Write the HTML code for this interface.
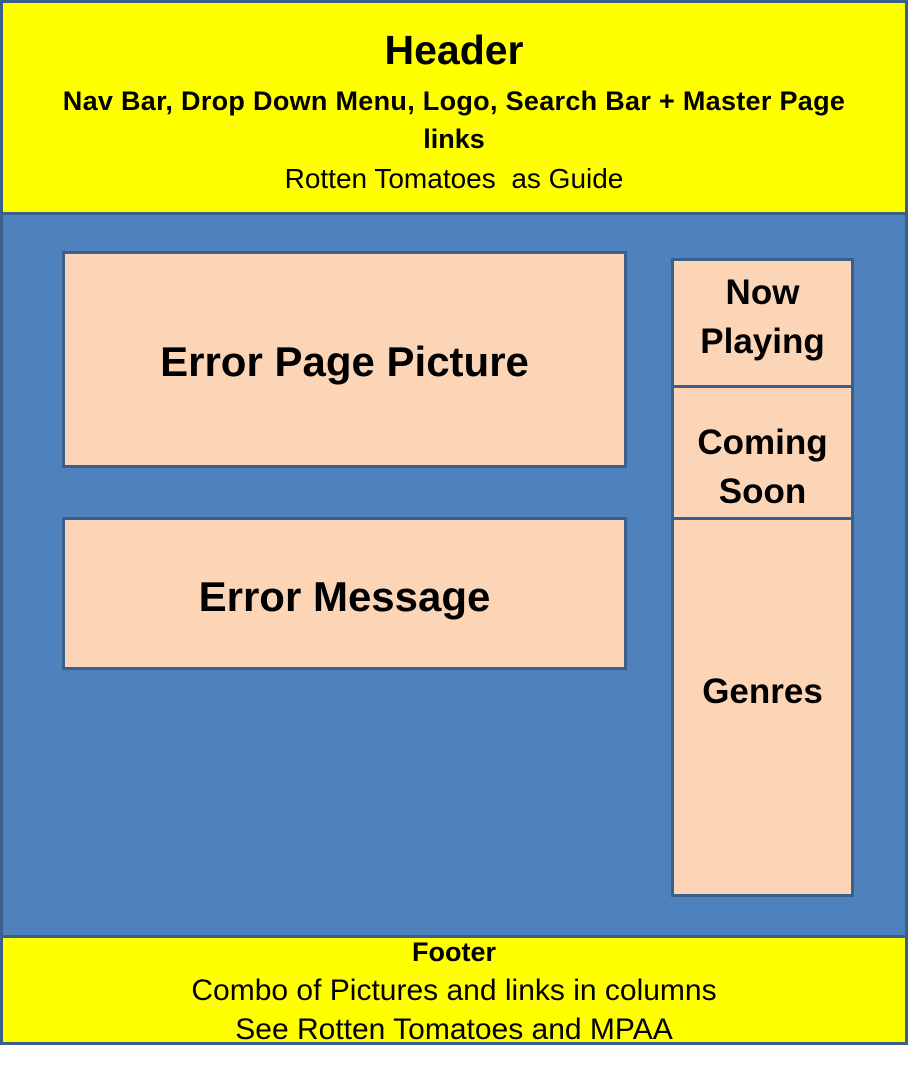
<!DOCTYPE html>
<html><head><style>
body{margin:0;width:908px;height:1070px;background:#fff;position:relative;overflow:hidden;font-family:"Liberation Sans",sans-serif;}
.a{position:absolute;box-sizing:border-box;}
.t{position:absolute;left:0;right:0;text-align:center;color:#000;white-space:nowrap;height:40px;line-height:40px;}
.box{background:#fbd5b5;border:3px solid #3a5f8a;}
.bt{position:absolute;text-align:center;font-weight:bold;color:#000;white-space:nowrap;height:50px;line-height:50px;}
</style></head><body>
<div class="a" style="left:0;top:0;width:908px;height:1045px;background:#4f81bd;border:3px solid #3a5f8a;"></div>
<div class="a" style="left:0;top:0;width:908px;height:215px;background:#ffff00;border:3px solid #3a5f8a;"></div>
<div class="t" style="top:30px;font-size:41px;font-weight:bold;">Header</div>
<div class="t" style="top:81px;font-size:27px;font-weight:bold;letter-spacing:0.3px;">Nav Bar, Drop Down Menu, Logo, Search Bar + Master Page</div>
<div class="t" style="top:119px;font-size:27px;font-weight:bold;">links</div>
<div class="t" style="top:159px;font-size:28px;">Rotten Tomatoes &nbsp;as Guide</div>

<div class="a box" style="left:62px;top:251px;width:565px;height:217px;"></div>
<div class="bt" style="left:62px;width:565px;top:337px;font-size:42px;">Error Page Picture</div>
<div class="a box" style="left:62px;top:517px;width:565px;height:153px;"></div>
<div class="bt" style="left:62px;width:565px;top:572px;font-size:42px;">Error Message</div>
<div class="a box" style="left:671px;top:258px;width:183px;height:130px;"></div>
<div class="a box" style="left:671px;top:385px;width:183px;height:136px;"></div>
<div class="a box" style="left:671px;top:517px;width:183px;height:380px;"></div>
<div class="bt" style="left:671px;width:183px;top:268px;font-size:35px;">Now</div>
<div class="bt" style="left:671px;width:183px;top:317px;font-size:35px;">Playing</div>
<div class="bt" style="left:671px;width:183px;top:418px;font-size:35px;">Coming</div>
<div class="bt" style="left:671px;width:183px;top:467px;font-size:35px;">Soon</div>
<div class="bt" style="left:671px;width:183px;top:667px;font-size:35px;">Genres</div>

<div class="a" style="left:0;top:935px;width:908px;height:110px;background:#ffff00;border:3px solid #3a5f8a;"></div>
<div class="t" style="top:932px;font-size:27px;font-weight:bold;">Footer</div>
<div class="t" style="top:971px;font-size:30px;">Combo of Pictures and links in columns</div>
<div class="a" style="left:0;top:1010px;width:908px;height:32px;overflow:hidden;"><div class="t" style="top:0;font-size:30px;">See Rotten Tomatoes and MPAA</div></div>
</body></html>
